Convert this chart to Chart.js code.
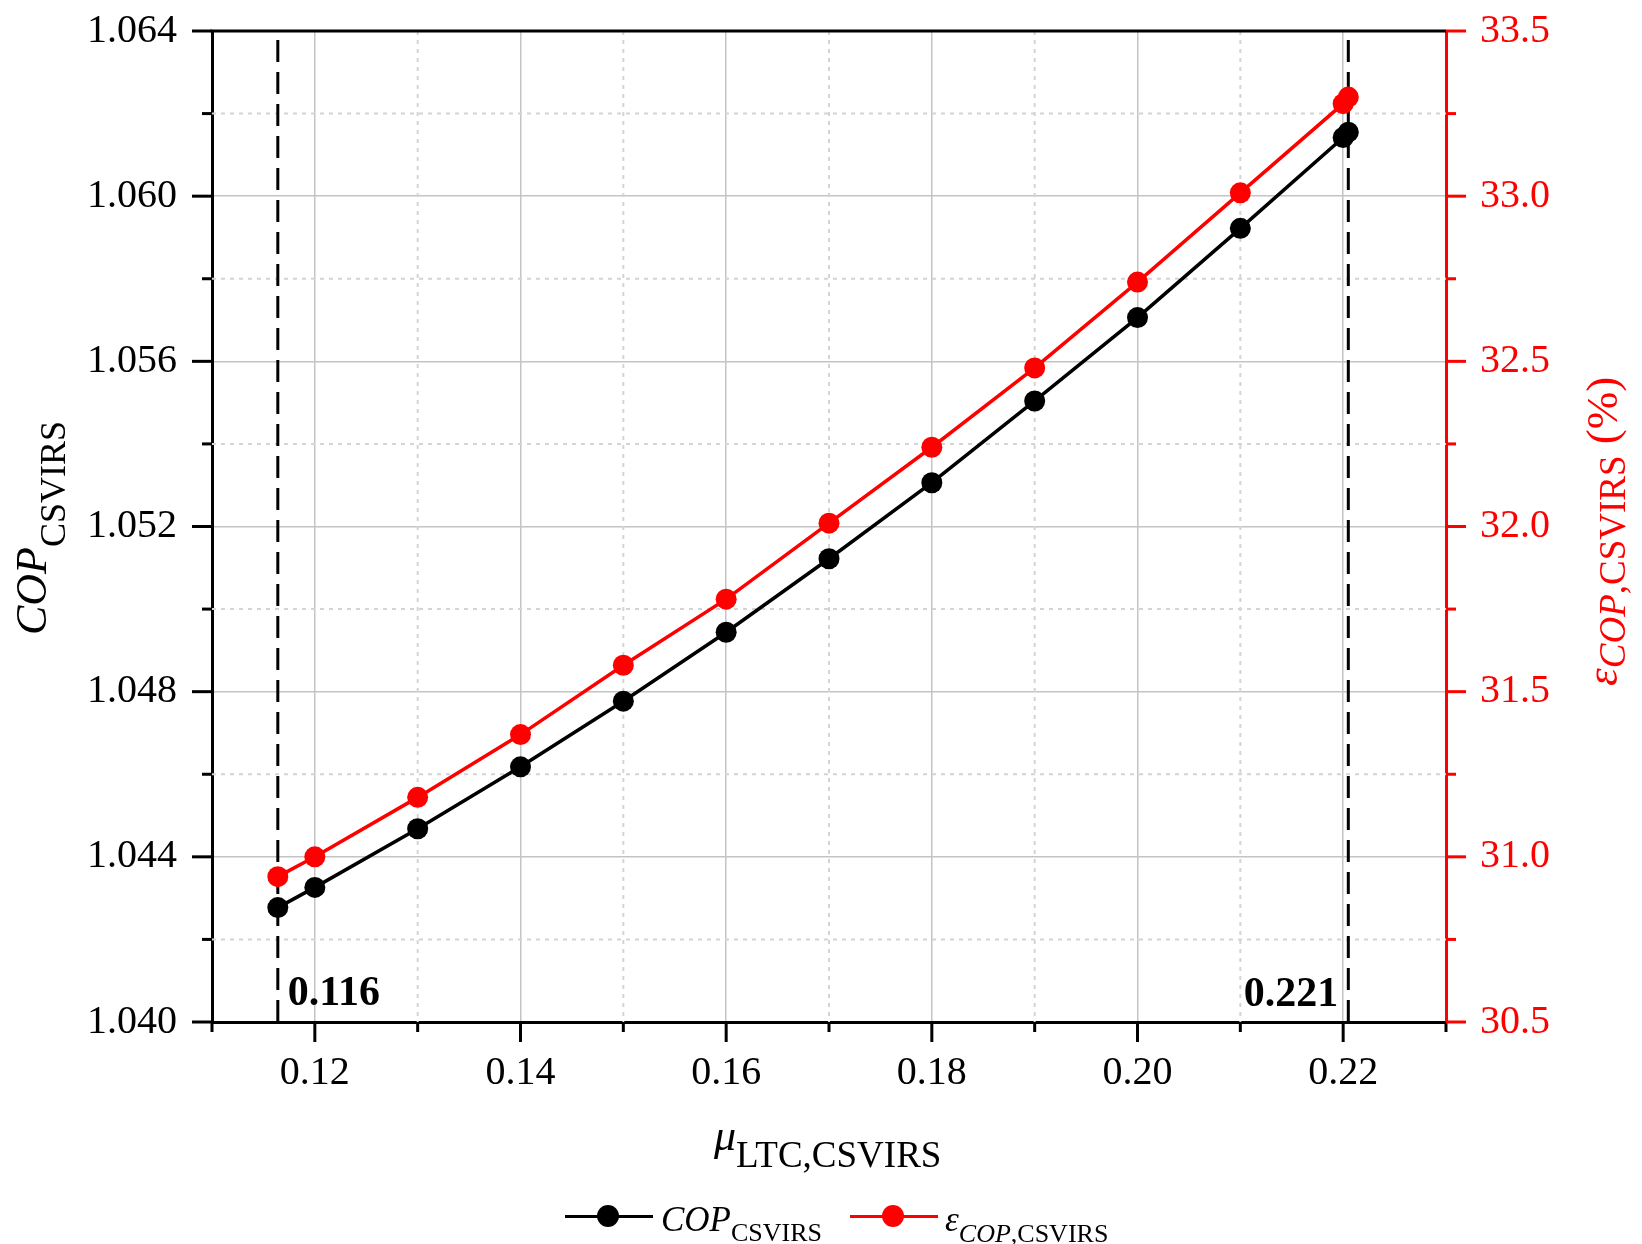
<!DOCTYPE html>
<html>
<head>
<meta charset="utf-8">
<title>COP vs mu</title>
<script src="https://cdn.jsdelivr.net/npm/chart.js@4.4.1/dist/chart.umd.min.js"></script>
<style>
  html, body { margin: 0; padding: 0; background: #fff; overflow: hidden; }
  #wrap { position: relative; width: 1642px; height: 1244px; font-family: "Liberation Serif", "Times New Roman", serif; color: #000; }
  #chart { position: absolute; left: 0; top: 0; }
  .lbl { position: absolute; white-space: nowrap; line-height: 1; }
  .rot { transform-origin: 0 0; transform: rotate(-90deg); }
  .it { font-style: italic; }
  .seg { position: absolute; height: 3px; }
  .dot { position: absolute; width: 22px; height: 22px; border-radius: 50%; }
</style>
</head>
<body>
<div id="wrap">
  <canvas id="chart" width="1642" height="1244"></canvas>

  <!-- axis titles -->
  <div class="lbl" style="left:714px; top:1114px; font-size:44px;"><span class="it">μ</span><span style="font-size:37px; vertical-align:-17px;">LTC,CSVIRS</span></div>
  <div class="lbl rot" style="left:10px; top:635px; font-size:44px;"><span class="it">COP</span><span style="font-size:36px; vertical-align:-19px;">CSVIRS</span></div>
  <div class="lbl rot" style="left:1580px; top:686px; font-size:45px; color:#ff0000;"><span class="it">ε</span><span style="font-size:37px; vertical-align:-8px;"><span class="it">COP</span>,CSVIRS</span> (%)</div>

  <!-- legend -->
  <div class="seg" style="left:565px; top:1215px; width:88px; background:#000;"></div>
  <div class="dot" style="left:597px; top:1205px; background:#000;"></div>
  <div class="lbl" style="left:661px; top:1202px; font-size:35px;"><span class="it">COP</span><span style="font-size:26px; vertical-align:-10px;">CSVIRS</span></div>
  <div class="seg" style="left:850px; top:1215px; width:88px; background:#ff0000;"></div>
  <div class="dot" style="left:882px; top:1205px; background:#ff0000;"></div>
  <div class="lbl" style="left:945px; top:1202px; font-size:35px;"><span class="it">ε</span><span style="font-size:26px; vertical-align:-11px;"><span class="it">COP</span>,CSVIRS</span></div>
</div>

<script>
// data
const muValues  = [0.1164, 0.12, 0.13, 0.14, 0.15, 0.16, 0.17, 0.18, 0.19, 0.20, 0.21, 0.22, 0.2205];
const copValues = [1.04277, 1.04326, 1.04468, 1.04618, 1.04777, 1.04944, 1.05122, 1.05306, 1.05504, 1.05706, 1.05922, 1.06142, 1.06155];
const epsValues = [30.94, 31.00, 31.18, 31.37, 31.58, 31.78, 32.01, 32.24, 32.48, 32.74, 33.01, 33.28, 33.30];

// the two dashed bounds
const boundMu = [0.1164, 0.2205];
const boundLabels = ["0.116", "0.221"];

// ticks (empty label = minor tick)
const xTickValues = [0.11, 0.12, 0.13, 0.14, 0.15, 0.16, 0.17, 0.18, 0.19, 0.20, 0.21, 0.22, 0.23];
const xTickLabels = ["", "0.12", "", "0.14", "", "0.16", "", "0.18", "", "0.20", "", "0.22", ""];
const yTickValues = [1.040, 1.042, 1.044, 1.046, 1.048, 1.050, 1.052, 1.054, 1.056, 1.058, 1.060, 1.062, 1.064];
const yTickLabels = ["1.040", "", "1.044", "", "1.048", "", "1.052", "", "1.056", "", "1.060", "", "1.064"];
const y1TickValues = [30.5, 30.75, 31.0, 31.25, 31.5, 31.75, 32.0, 32.25, 32.5, 32.75, 33.0, 33.25, 33.5];
const y1TickLabels = ["30.5", "", "31.0", "", "31.5", "", "32.0", "", "32.5", "", "33.0", "", "33.5"];

const FONT = '"Liberation Serif", "Times New Roman", serif';
const RED = '#ff0000';

const tickSets = {
  x: { values: xTickValues, labels: xTickLabels },
  y: { values: yTickValues, labels: yTickLabels },
  y1: { values: y1TickValues, labels: y1TickLabels }
};

function setTicks(scale) {
  scale.ticks = tickSets[scale.id].values.map(v => ({ value: v }));
}

// fixed axis box sizes so the plot area lands where it is in the figure
function fixWidth(w) {
  return s => { s.width = w; s.paddingTop = 0; s.paddingBottom = 0; };
}

// dotted minor grid, outside tick marks, top frame, bound labels
const framePlugin = {
  id: 'frame',
  beforeDatasetsDraw(chart) {
    const { ctx, chartArea: a } = chart;
    ctx.save();
    ctx.strokeStyle = '#d4d4d4';
    ctx.lineWidth = 2;
    ctx.setLineDash([4, 5]);
    const xs = chart.scales.x, ys = chart.scales.y;
    xTickValues.forEach((v, i) => {
      if (xTickLabels[i] !== '') return;
      const px = xs.getPixelForValue(v);
      if (px <= a.left + 2 || px >= a.right - 2) return;
      ctx.beginPath(); ctx.moveTo(px, a.top); ctx.lineTo(px, a.bottom); ctx.stroke();
    });
    yTickValues.forEach((v, i) => {
      if (yTickLabels[i] !== '') return;
      const py = ys.getPixelForValue(v);
      ctx.beginPath(); ctx.moveTo(a.left, py); ctx.lineTo(a.right, py); ctx.stroke();
    });
    ctx.restore();
  },
  afterDatasetsDraw(chart) {
    const { ctx, chartArea: a } = chart;
    const xs = chart.scales.x;
    ctx.save();
    ctx.fillStyle = '#000';
    ctx.font = 'bold 42px ' + FONT;
    ctx.textBaseline = 'alphabetic';
    ctx.textAlign = 'left';
    ctx.fillText(boundLabels[0], xs.getPixelForValue(boundMu[0]) + 10, a.bottom - 17);
    ctx.textAlign = 'right';
    ctx.fillText(boundLabels[1], xs.getPixelForValue(boundMu[1]) - 10, a.bottom - 16);
    ctx.restore();
  },
  afterDraw(chart) {
    const { ctx, chartArea: a } = chart;
    ctx.save();
    ctx.lineWidth = 3;
    ctx.setLineDash([]);
    // top frame
    ctx.strokeStyle = '#000';
    ctx.beginPath(); ctx.moveTo(a.left - 1.5, a.top); ctx.lineTo(a.right, a.top); ctx.stroke();
    // x ticks
    xTickValues.forEach((v, i) => {
      const px = chart.scales.x.getPixelForValue(v);
      const len = xTickLabels[i] ? 20 : 10;
      ctx.beginPath(); ctx.moveTo(px, a.bottom); ctx.lineTo(px, a.bottom + len); ctx.stroke();
    });
    // left ticks
    yTickValues.forEach((v, i) => {
      const py = chart.scales.y.getPixelForValue(v);
      const len = yTickLabels[i] ? 20 : 10;
      ctx.beginPath(); ctx.moveTo(a.left, py); ctx.lineTo(a.left - len, py); ctx.stroke();
    });
    // right ticks
    ctx.strokeStyle = RED;
    y1TickValues.forEach((v, i) => {
      const py = chart.scales.y1.getPixelForValue(v);
      const len = y1TickLabels[i] ? 20 : 10;
      ctx.beginPath(); ctx.moveTo(a.right, py); ctx.lineTo(a.right + len, py); ctx.stroke();
    });
    ctx.restore();
  }
};

const boundLine = mu => ({
  data: [{ x: mu, y: 1.040 }, { x: mu, y: 1.064 }],
  yAxisID: 'y',
  borderColor: '#000',
  borderWidth: 3,
  borderDash: [22, 10],
  pointRadius: 0,
  order: 5
});

new Chart(document.getElementById('chart').getContext('2d'), {
  type: 'line',
  data: {
    datasets: [
      {
        label: 'COP',
        data: muValues.map((m, i) => ({ x: m, y: copValues[i] })),
        yAxisID: 'y',
        borderColor: '#000',
        backgroundColor: '#000',
        borderWidth: 3.5,
        pointRadius: 10.5,
        pointBorderWidth: 0,
        order: 2
      },
      {
        label: 'eps',
        data: muValues.map((m, i) => ({ x: m, y: epsValues[i] })),
        yAxisID: 'y1',
        borderColor: RED,
        backgroundColor: RED,
        borderWidth: 3.5,
        pointRadius: 10.5,
        pointBorderWidth: 0,
        order: 1
      },
      boundLine(boundMu[0]),
      boundLine(boundMu[1])
    ]
  },
  options: {
    responsive: false,
    animation: false,
    devicePixelRatio: 1,
    layout: { padding: { top: 31, left: 0, right: 0, bottom: 0 } },
    plugins: { legend: { display: false }, tooltip: { enabled: false } },
    scales: {
      x: {
        type: 'linear',
        min: 0.11, max: 0.23,
        afterBuildTicks: setTicks,
        afterFit: s => { s.height = 222; s.paddingLeft = 0; s.paddingRight = 0; },
        ticks: {
          autoSkip: false, maxRotation: 0, padding: 27,
          color: '#000', font: { family: FONT, size: 40 },
          callback: (v, i) => xTickLabels[i]
        },
        grid: {
          drawTicks: false, lineWidth: 1.5,
          color: c => (xTickLabels[c.index] ? '#c4c4c4' : 'rgba(0,0,0,0)')
        },
        border: { display: true, color: '#000', width: 3 }
      },
      y: {
        position: 'left',
        min: 1.040, max: 1.064,
        afterBuildTicks: setTicks,
        afterFit: fixWidth(212),
        ticks: {
          autoSkip: false, padding: 35,
          color: '#000', font: { family: FONT, size: 40 },
          callback: (v, i) => yTickLabels[i]
        },
        grid: {
          drawTicks: false, lineWidth: 1.5,
          color: c => (yTickLabels[c.index] ? '#c4c4c4' : 'rgba(0,0,0,0)')
        },
        border: { display: true, color: '#000', width: 3 }
      },
      y1: {
        position: 'right',
        min: 30.5, max: 33.5,
        afterBuildTicks: setTicks,
        afterFit: fixWidth(196),
        ticks: {
          autoSkip: false, padding: 34,
          color: RED, font: { family: FONT, size: 40 },
          callback: (v, i) => y1TickLabels[i]
        },
        grid: { drawOnChartArea: false, drawTicks: false },
        border: { display: true, color: RED, width: 3 }
      }
    }
  },
  plugins: [framePlugin]
});
</script>
</body>
</html>
